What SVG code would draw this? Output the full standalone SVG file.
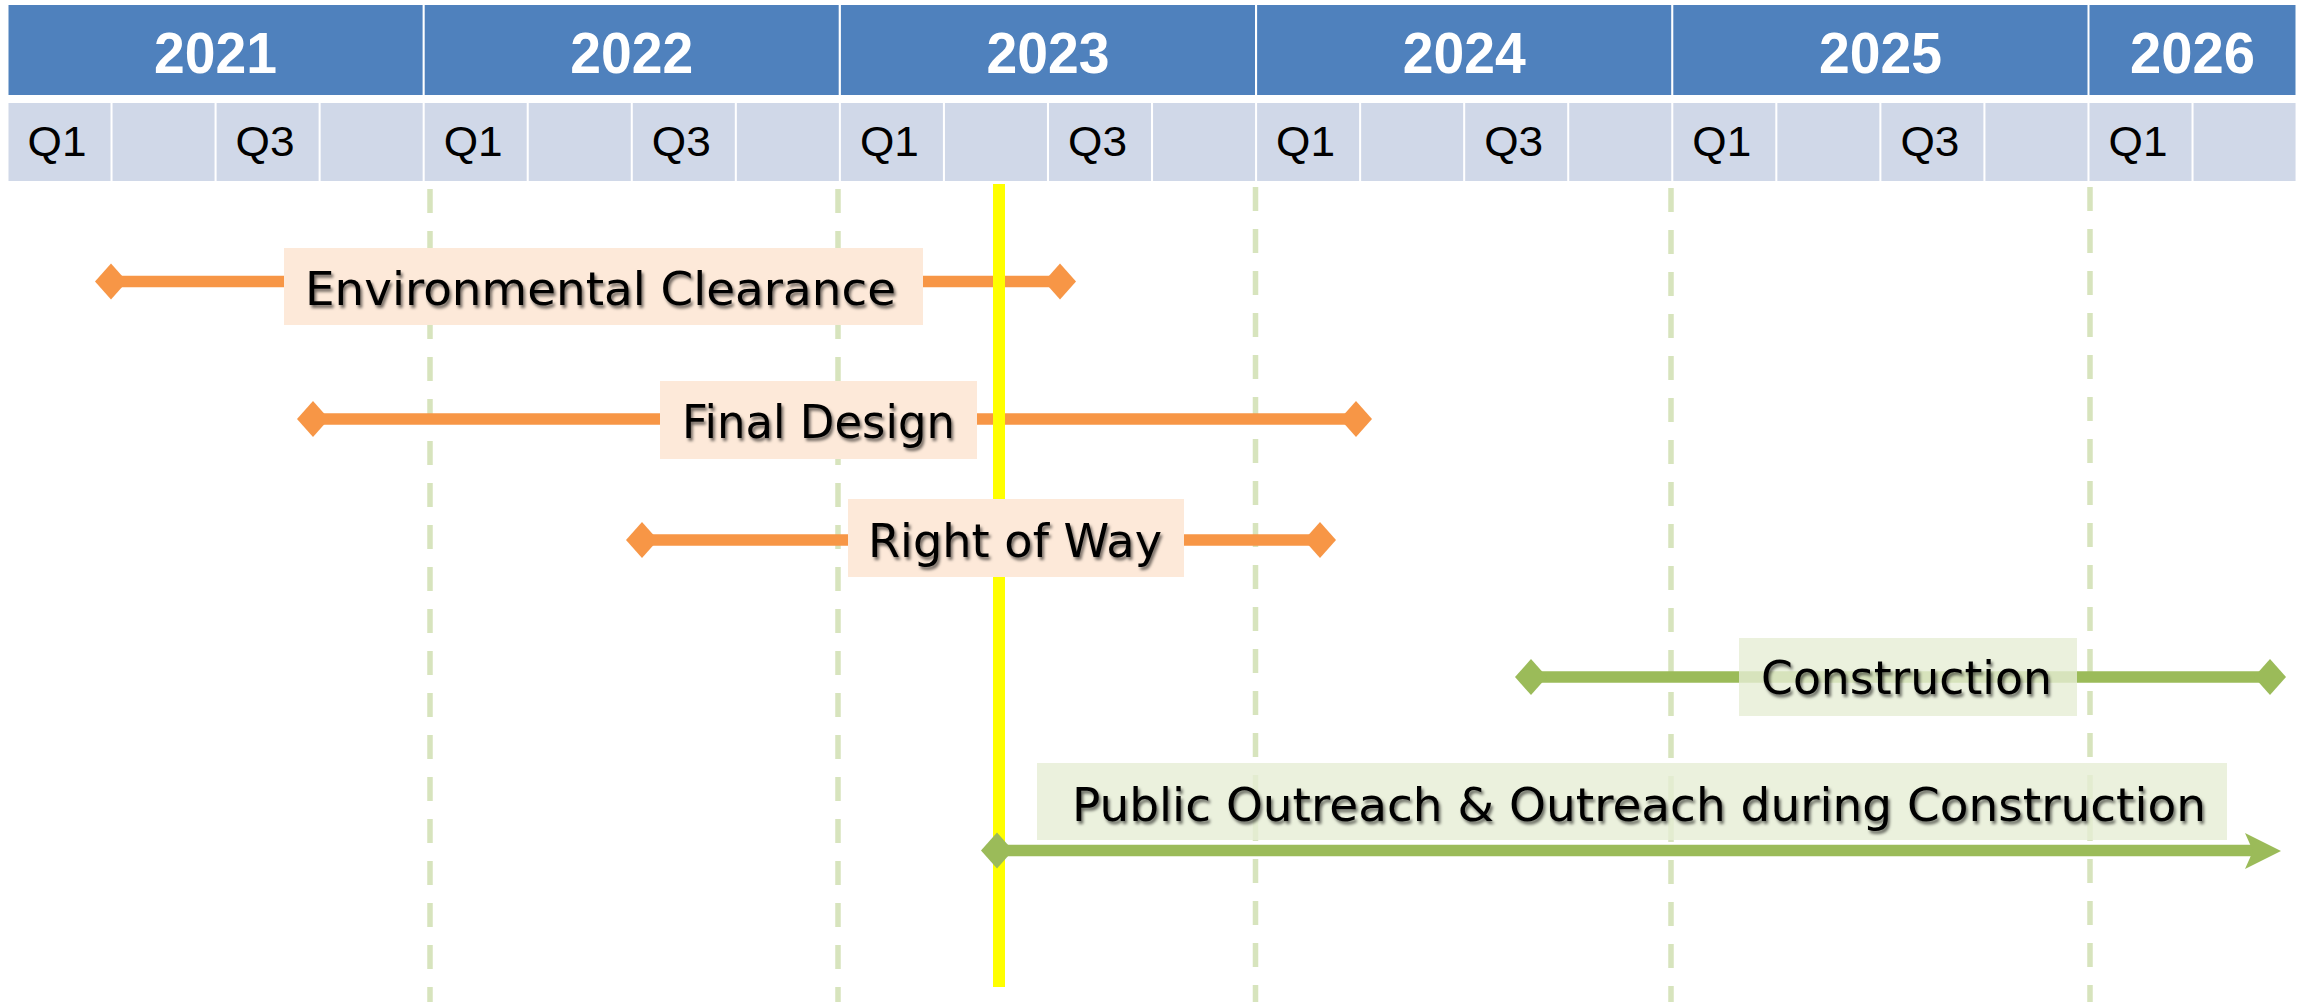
<svg xmlns="http://www.w3.org/2000/svg" xmlns:xlink="http://www.w3.org/1999/xlink" width="2300" height="1002" viewBox="0 0 2300 1002">
<style>
.yr{fill:#4f81bd}
.qc{fill:#d0d8e8}
.yt{font-family:"Liberation Sans",Arial,sans-serif;font-weight:bold;font-size:57px;fill:#fff;text-anchor:middle}
.qt{font-family:"Liberation Sans",Arial,sans-serif;font-size:43px;fill:#000}
.grid{stroke:#d7e4bd;stroke-width:5.5;stroke-dasharray:24 18;fill:none}
.ob{stroke:#f79646;stroke-width:11.5;fill:none}
.gb{stroke:#9bbb59;stroke-width:11.5;fill:none}
.obox{fill:#fde9d9}
.gbox{fill:#e6edd5;fill-opacity:0.8}
.lt{font-family:"DejaVu Sans","Liberation Sans",sans-serif;font-size:46px;fill:#000;filter:url(#sh)}
</style>
<defs>
<filter id="sh" x="-5%" y="-30%" width="110%" height="160%">
<feDropShadow dx="2" dy="3" stdDeviation="1.6" flood-color="#000" flood-opacity="0.55"/>
</filter>
<path id="dia" d="M-16 0 L0 -18 L16 0 L0 18 Z"/>
</defs>
<rect width="2300" height="1002" fill="#fff"/>

<g id="header">
<g id="years">
<rect class="yr" x="8.5" y="5" width="414.1" height="90"/>
<rect class="yr" x="424.7" y="5" width="414" height="90"/>
<rect class="yr" x="840.9" y="5" width="414.1" height="90"/>
<rect class="yr" x="1257.1" y="5" width="414.1" height="90"/>
<rect class="yr" x="1673.3" y="5" width="414.2" height="90"/>
<rect class="yr" x="2089.5" y="5" width="206" height="90"/>
<text class="yt" x="215.5" y="73" textLength="123" lengthAdjust="spacingAndGlyphs">2021</text>
<text class="yt" x="631.7" y="73" textLength="123" lengthAdjust="spacingAndGlyphs">2022</text>
<text class="yt" x="1048" y="73" textLength="123" lengthAdjust="spacingAndGlyphs">2023</text>
<text class="yt" x="1464.2" y="73" textLength="123" lengthAdjust="spacingAndGlyphs">2024</text>
<text class="yt" x="1880.4" y="73" textLength="123" lengthAdjust="spacingAndGlyphs">2025</text>
<text class="yt" x="2192.5" y="73" textLength="125" lengthAdjust="spacingAndGlyphs">2026</text>
</g>
<g id="quarters">
<rect class="qc" x="8.5" y="103" width="102" height="78"/>
<rect class="qc" x="112.55" y="103" width="102" height="78"/>
<rect class="qc" x="216.6" y="103" width="102" height="78"/>
<rect class="qc" x="320.65" y="103" width="102" height="78"/>
<rect class="qc" x="424.7" y="103" width="102" height="78"/>
<rect class="qc" x="528.75" y="103" width="102" height="78"/>
<rect class="qc" x="632.8" y="103" width="102" height="78"/>
<rect class="qc" x="736.85" y="103" width="102" height="78"/>
<rect class="qc" x="840.9" y="103" width="102" height="78"/>
<rect class="qc" x="944.95" y="103" width="102" height="78"/>
<rect class="qc" x="1049" y="103" width="102" height="78"/>
<rect class="qc" x="1153.05" y="103" width="102" height="78"/>
<rect class="qc" x="1257.1" y="103" width="102" height="78"/>
<rect class="qc" x="1361.15" y="103" width="102" height="78"/>
<rect class="qc" x="1465.2" y="103" width="102" height="78"/>
<rect class="qc" x="1569.25" y="103" width="102" height="78"/>
<rect class="qc" x="1673.3" y="103" width="102" height="78"/>
<rect class="qc" x="1777.35" y="103" width="102" height="78"/>
<rect class="qc" x="1881.4" y="103" width="102" height="78"/>
<rect class="qc" x="1985.45" y="103" width="102" height="78"/>
<rect class="qc" x="2089.5" y="103" width="102" height="78"/>
<rect class="qc" x="2193.55" y="103" width="102" height="78"/>
<text class="qt" x="27.5" y="156" textLength="59" lengthAdjust="spacingAndGlyphs">Q1</text>
<text class="qt" x="235.5" y="156" textLength="59" lengthAdjust="spacingAndGlyphs">Q3</text>
<text class="qt" x="443.7" y="156" textLength="59" lengthAdjust="spacingAndGlyphs">Q1</text>
<text class="qt" x="651.8" y="156" textLength="59" lengthAdjust="spacingAndGlyphs">Q3</text>
<text class="qt" x="859.9" y="156" textLength="59" lengthAdjust="spacingAndGlyphs">Q1</text>
<text class="qt" x="1068" y="156" textLength="59" lengthAdjust="spacingAndGlyphs">Q3</text>
<text class="qt" x="1276.1" y="156" textLength="59" lengthAdjust="spacingAndGlyphs">Q1</text>
<text class="qt" x="1484.2" y="156" textLength="59" lengthAdjust="spacingAndGlyphs">Q3</text>
<text class="qt" x="1692.3" y="156" textLength="59" lengthAdjust="spacingAndGlyphs">Q1</text>
<text class="qt" x="1900.4" y="156" textLength="59" lengthAdjust="spacingAndGlyphs">Q3</text>
<text class="qt" x="2108.5" y="156" textLength="59" lengthAdjust="spacingAndGlyphs">Q1</text>
</g>
</g>

<g id="gridlines">
<line class="grid" x1="430" y1="189" x2="430" y2="1002"/>
<line class="grid" x1="838" y1="189" x2="838" y2="1002"/>
<line class="grid" x1="1255.5" y1="187" x2="1255.5" y2="1002"/>
<line class="grid" x1="1671" y1="188" x2="1671" y2="1002"/>
<line class="grid" x1="2090" y1="187" x2="2090" y2="1002"/>
</g>

<g id="connectors">
<g id="bar-env">
<line class="ob" x1="111" y1="281.5" x2="1060" y2="281.5"/>
<use xlink:href="#dia" href="#dia" x="111" y="281.5" fill="#f79646"/>
<use xlink:href="#dia" href="#dia" x="1060" y="281.5" fill="#f79646"/>
</g>
<g id="bar-design">
<line class="ob" x1="313" y1="419" x2="1356" y2="419"/>
<use xlink:href="#dia" href="#dia" x="313" y="419" fill="#f79646"/>
<use xlink:href="#dia" href="#dia" x="1356" y="419" fill="#f79646"/>
</g>
<g id="bar-row">
<line class="ob" x1="642" y1="540" x2="1320" y2="540"/>
<use xlink:href="#dia" href="#dia" x="642" y="540" fill="#f79646"/>
<use xlink:href="#dia" href="#dia" x="1320" y="540" fill="#f79646"/>
</g>
</g>

<g id="today-line">
<rect x="993" y="184" width="12" height="803" fill="#ffff00"/>
</g>

<g id="node-env">
<rect class="obox" x="284" y="248" width="639" height="77"/>
<text class="lt" x="305" y="305" textLength="591" lengthAdjust="spacingAndGlyphs">Environmental Clearance</text>
</g>
<g id="node-design">
<rect class="obox" x="660" y="381" width="317" height="78"/>
<text class="lt" x="682" y="438" textLength="273" lengthAdjust="spacingAndGlyphs">Final Design</text>
</g>
<g id="node-row">
<rect class="obox" x="848" y="499" width="336" height="78"/>
<text class="lt" x="868" y="556.5" textLength="294" lengthAdjust="spacingAndGlyphs">Right of Way</text>
</g>

<g id="connectors-green">
<g id="bar-construction">
<line class="gb" x1="1531" y1="677" x2="2270" y2="677"/>
<use xlink:href="#dia" href="#dia" x="1531" y="677" fill="#9bbb59"/>
<use xlink:href="#dia" href="#dia" x="2270" y="677" fill="#9bbb59"/>
</g>
<g id="bar-outreach">
<line class="gb" x1="997" y1="850.5" x2="2255" y2="850.5"/>
<use xlink:href="#dia" href="#dia" x="997" y="850.5" fill="#9bbb59"/>
<polygon points="2245,833 2281,851 2245,869 2253,851" fill="#9bbb59"/>
</g>
</g>

<g id="node-construction">
<rect class="gbox" x="1739" y="638" width="338" height="78"/>
<text class="lt" x="1761" y="694" textLength="291" lengthAdjust="spacingAndGlyphs">Construction</text>
</g>
<g id="node-outreach">
<rect class="gbox" x="1037" y="763" width="1190" height="77"/>
<text class="lt" x="1072" y="821" textLength="1134" lengthAdjust="spacingAndGlyphs">Public Outreach &amp; Outreach during Construction</text>
</g>
</svg>
